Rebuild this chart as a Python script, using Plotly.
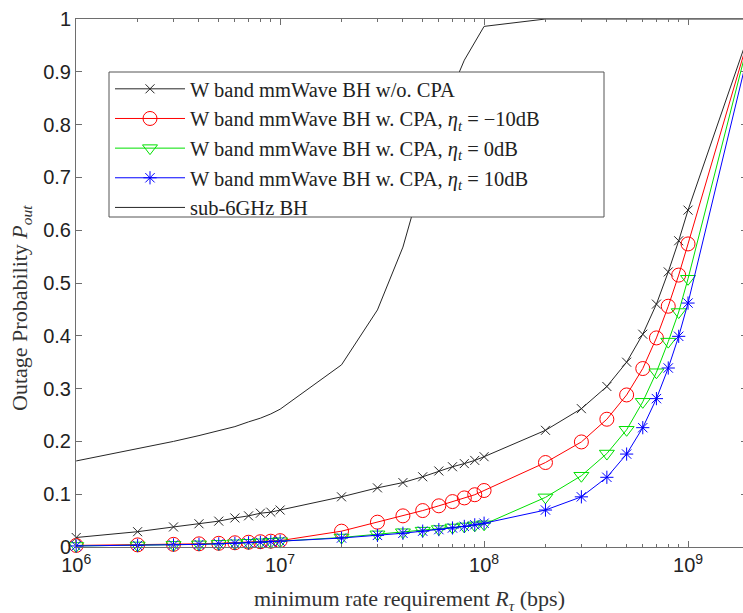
import plotly.graph_objects as go

# Minimum rate requirement R_tau (bps)
rates = [1e6, 2e6, 3e6, 4e6, 5e6, 6e6, 7e6, 8e6, 9e6, 1e7,
         2e7, 3e7, 4e7, 5e7, 6e7, 7e7, 8e7, 9e7, 1e8,
         2e8, 3e8, 4e8, 5e8, 6e8, 7e8, 8e8, 9e8, 1e9,
         2e9]

# Outage probability per scheme
p_wo_cpa = [0.018, 0.029, 0.038, 0.044, 0.049, 0.055, 0.059, 0.064, 0.066, 0.070,
            0.095, 0.112, 0.122, 0.133, 0.144, 0.152, 0.158, 0.164, 0.171,
            0.221, 0.262, 0.304, 0.350, 0.403, 0.460, 0.521, 0.580, 0.638,
            0.975]
p_cpa_m10 = [0.003, 0.004, 0.005, 0.006, 0.007, 0.008, 0.009, 0.010, 0.011, 0.012,
             0.030, 0.047, 0.059, 0.069, 0.078, 0.086, 0.093, 0.099, 0.107,
             0.160, 0.199, 0.242, 0.288, 0.338, 0.396, 0.456, 0.515, 0.574,
             0.970]
p_cpa_0 = [0.002, 0.003, 0.004, 0.005, 0.006, 0.007, 0.008, 0.009, 0.010, 0.011,
           0.018, 0.024, 0.028, 0.031, 0.034, 0.037, 0.039, 0.041, 0.043,
           0.094, 0.135, 0.177, 0.222, 0.275, 0.331, 0.389, 0.445, 0.508,
           0.965]
p_cpa_10 = [0.002, 0.003, 0.004, 0.005, 0.006, 0.007, 0.008, 0.009, 0.010, 0.011,
            0.017, 0.022, 0.026, 0.030, 0.033, 0.036, 0.039, 0.042, 0.045,
            0.070, 0.095, 0.132, 0.176, 0.226, 0.281, 0.339, 0.399, 0.462,
            0.945]
p_sub6 = [0.163, 0.186, 0.200, 0.211, 0.220, 0.228, 0.237, 0.244, 0.252, 0.261,
          0.345, 0.449, 0.568, 0.700, 0.790, 0.869, 0.922, 0.956, 0.986,
          1.0, 1.0, 1.0, 1.0, 1.0, 1.0, 1.0, 1.0, 1.0,
          1.0]

names = [
    "W band mmWave BH w/o. CPA",
    "W band mmWave BH w. CPA, <i>η<sub>t</sub></i> = −10dB",
    "W band mmWave BH w. CPA, <i>η<sub>t</sub></i> = 0dB",
    "W band mmWave BH w. CPA, <i>η<sub>t</sub></i> = 10dB",
    "sub-6GHz BH",
]

y_ticks = [0, 0.1, 0.2, 0.3, 0.4, 0.5, 0.6, 0.7, 0.8, 0.9, 1]
y_labels = ["0", "0.1", "0.2", "0.3", "0.4", "0.5", "0.6", "0.7", "0.8", "0.9", "1"]
x_major = [1e6, 1e7, 1e8, 1e9]
x_major_labels = ["10<sup>6</sup>", "10<sup>7</sup>", "10<sup>8</sup>", "10<sup>9</sup>"]
x_minor = [m * 10 ** e for e in range(6, 10) for m in range(2, 10)]

SERIF = "Liberation Serif, Times New Roman, serif"
SANS = "Liberation Sans, Arial, sans-serif"
AXIS_GRAY = "#6e6e6e"

fig = go.Figure()

styles = [
    ("#262626", "x-thin", 9),
    ("#ff0000", "circle-open", 14),
    ("#00e000", "triangle-down-open", 13),
    ("#0000ff", "asterisk-open", 11),
]
for vals, (col, sym, sz), name in zip([p_wo_cpa, p_cpa_m10, p_cpa_0, p_cpa_10], styles, names[:4]):
    fig.add_trace(go.Scatter(
        x=rates, y=vals, name=name, mode="lines+markers",
        line=dict(color=col, width=1),
        marker=dict(symbol=sym, size=sz, color=col, line=dict(color=col, width=1)),
        cliponaxis=False,
    ))

fig.add_trace(go.Scatter(
    x=rates, y=p_sub6, name=names[4], mode="lines",
    line=dict(color="#262626", width=1),
))

# right-hand tick marks without a visible frame line
fig.add_trace(go.Scatter(x=[], y=[], yaxis="y2", showlegend=False))

# legend frame (white box above the curves, legend entries drawn on top)
fig.add_shape(type="rect", xref="paper", yref="paper",
              x0=(109 - 76) / 667, x1=(604 - 76) / 667,
              y0=(547 - 217) / 528, y1=(547 - 72) / 528,
              line=dict(color="#555555", width=1), fillcolor="white", layer="above")

fig.update_layout(
    width=743, height=613,
    margin=dict(l=76, r=0, t=19, b=66),
    paper_bgcolor="white", plot_bgcolor="white",
    showlegend=True,
    legend=dict(
        x=(110 - 76) / 667, y=(547 - 69) / 528, xanchor="left", yanchor="top",
        bgcolor="rgba(0,0,0,0)", borderwidth=0,
        font=dict(family=SERIF, size=20.5, color="#222222"),
        itemwidth=70, tracegroupgap=0,
    ),
    xaxis=dict(
        type="log", range=[5.999, 9.2696],
        tickmode="array", tickvals=x_major, ticktext=x_major_labels,
        ticks="inside", ticklen=6, tickcolor=AXIS_GRAY, tickwidth=1,
        minor=dict(tickmode="array", tickvals=x_minor, ticks="inside",
                   ticklen=3, tickcolor=AXIS_GRAY, showgrid=False),
        showline=True, linecolor=AXIS_GRAY, linewidth=1, mirror="ticks",
        showgrid=False, zeroline=False,
        tickfont=dict(family=SANS, size=20, color="#222222"),
    ),
    yaxis=dict(
        range=[0, 1], tickmode="array", tickvals=y_ticks, ticktext=y_labels,
        ticks="inside", ticklen=6, tickcolor=AXIS_GRAY, tickwidth=1,
        showline=True, linecolor=AXIS_GRAY, linewidth=1, mirror=False,
        showgrid=False, zeroline=False,
        tickfont=dict(family=SANS, size=20, color="#222222"),
    ),
    yaxis2=dict(
        overlaying="y", side="right", matches="y", range=[0, 1],
        tickmode="array", tickvals=y_ticks, ticks="inside", ticklen=2,
        tickcolor=AXIS_GRAY, showticklabels=False, showline=False,
        showgrid=False, zeroline=False,
    ),
    annotations=[
        dict(text="Outage Probability <i>P<sub>out</sub></i>", xref="paper", yref="paper",
             x=-0.0825, y=0.4527, xanchor="center", yanchor="middle", textangle=-90,
             showarrow=False, font=dict(family=SERIF, size=22, color="#333333")),
        dict(text="minimum rate requirement <i>R<sub>τ</sub></i> (bps)", xref="paper", yref="paper",
             x=0.5007, y=-0.1004, xanchor="center", yanchor="middle",
             showarrow=False, font=dict(family=SERIF, size=22, color="#333333")),
    ],
)

fig.write_html("out.html")
